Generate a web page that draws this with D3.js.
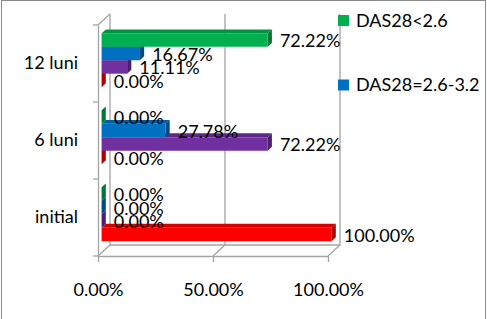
<!DOCTYPE html>
<html>
<head>
<meta charset="utf-8">
<script src="https://cdn.jsdelivr.net/npm/d3@7"></script>
<style>
  html, body { margin: 0; padding: 0; background: #fff; }
  svg { display: block; font-family: Lato, "Open Sans", sans-serif; }
</style>
</head>
<body>
<div id="chart"></div>
<script>
// categories, top to bottom as shown
const categories = ["12 luni", "6 luni", "initial"];
// series, top to bottom inside each category
const seriesNames = ["DAS28<2.6", "DAS28=2.6-3.2", "DAS28=3.2-5.1", "DAS28>5.1"];
const seriesColors = ["#00B050", "#0070C0", "#7030A0", "#FF0000"];
// values in percent, same order as categories
const greenValues = [72.22, 0, 0];
const blueValues = [16.67, 27.78, 0];
const purpleValues = [11.11, 72.22, 0];
const redValues = [0, 0, 100];
const xTicks = [0, 50, 100];
const legendShown = 2; // only the first two legend entries fit in the picture

const seriesValues = [greenValues, blueValues, purpleValues, redValues];

const width = 487, height = 319;
const DX = 12, DY = -11;      // depth offset front -> back wall
const z0 = 0.3, z1 = 0.65;     // depth range of the bars
const gridColor = "#a3a3a3";

const svg = d3.select("#chart")
    .append("svg")
    .attr("width", width)
    .attr("height", height);

// outer frame
svg.append("rect")
    .attr("x", 1.5).attr("y", 0.5)
    .attr("width", 484).attr("height", 330)
    .attr("fill", "none").attr("stroke", "#8a8a8a");

/* scales */
const x = d3.scaleLinear().domain([0, 100]).range([98, 328]);
const y0 = d3.scaleBand().domain(categories).range([25, 256]);
const ys = d3.scaleBand().domain(seriesNames)
    .range([y0.step() * 0.15, y0.step() * 0.85]);

const yTop = y0.range()[0], yBottom = y0.range()[1];

/* walls */
const walls = svg.append("g")
    .attr("stroke", gridColor).attr("stroke-width", 1.3).attr("fill", "none");

// back wall gridlines + their floor lines
xTicks.forEach(t => {
    walls.append("path").attr("d", d3.line()([
        [x(t) + DX, yTop + DY], [x(t) + DX, yBottom + DY], [x(t), yBottom]
    ]));
});
// left wall
walls.append("path").attr("d", d3.line()([
    [x(0), yTop], [x(0) + DX, yTop + DY]
]));
// floor back edge
walls.append("path").attr("d", d3.line()([
    [x(0) + DX, yBottom + DY], [x(100) + DX, yBottom + DY]
]));
// category boundary ticks
const bounds = categories.map(c => y0(c)).concat([yBottom]);
walls.selectAll("line.ctick")
    .data(bounds)
    .enter()
    .append("line")
    .attr("x1", x(0) - 5).attr("x2", x(0))
    .attr("y1", d => d).attr("y2", d => d);

/* axes */
const xAxis = svg.append("g")
    .attr("transform", `translate(0, ${yBottom})`)
    .call(d3.axisBottom(x).tickValues(xTicks).tickSize(6).tickSizeOuter(0)
        .tickPadding(21).tickFormat(d => d.toFixed(2) + "%"));

const yAxis = svg.append("g")
    .attr("transform", `translate(${x(0)}, 0)`)
    .call(d3.axisLeft(y0).tickSize(0).tickSizeOuter(0).tickPadding(20));

[xAxis, yAxis].forEach(a => {
    a.selectAll("path, line").attr("stroke", gridColor).attr("stroke-width", 1.3);
    a.selectAll("text").attr("font-size", 18).attr("fill", "#000")
        .attr("font-family", "Lato, 'Open Sans', sans-serif");
});

/* bars */
const bars = [];
categories.forEach((c, ci) => {
    seriesNames.forEach((s, si) => {
        bars.push({ cat: c, series: s, color: seriesColors[si], value: seriesValues[si][ci] });
    });
});

// draw lower bars first so upper ones cover their top faces
const drawOrder = bars.slice().sort((a, b) =>
    (y0(b.cat) + ys(b.series)) - (y0(a.cat) + ys(a.series)));

const barG = svg.append("g");
drawOrder.forEach(b => {
    const top = y0(b.cat) + ys(b.series);
    const bot = top + ys.bandwidth();
    const xa = x(0), xb = x(b.value);
    const P = (px, py, z) => [px + z * DX, py + z * DY];
    const c = d3.color(b.color);
    const g = barG.append("g");
    // top face
    g.append("path")
        .attr("d", d3.line()([P(xa, top, z0), P(xb, top, z0), P(xb, top, z1), P(xa, top, z1)]) + "Z")
        .attr("fill", c.darker(0.5));
    // end face
    g.append("path")
        .attr("d", d3.line()([P(xb, top, z0), P(xb, top, z1), P(xb, bot, z1), P(xb, bot, z0)]) + "Z")
        .attr("fill", c.darker(1.1));
    // front face
    g.append("path")
        .attr("d", d3.line()([P(xa, top, z0), P(xb, top, z0), P(xb, bot, z0), P(xa, bot, z0)]) + "Z")
        .attr("fill", b.color);
});

/* data labels */
svg.selectAll("text.bar-label")
    .data(bars)
    .enter()
    .append("text")
    .attr("class", "bar-label")
    .text(d => d.value.toFixed(2) + "%")
    .attr("x", d => x(d.value) + z1 * DX + 8)
    .attr("y", d => y0(d.cat) + ys(d.series) + ys.bandwidth() / 2 + z0 * DY + 7.5)
    .attr("font-size", 18)
    .attr("fill", "#000");

/* legend */
const legend = svg.append("g")
    .selectAll("g")
    .data(seriesNames.slice(0, legendShown))
    .enter()
    .append("g")
    .attr("transform", (d, i) => `translate(338, ${15 + i * 64.5})`);

legend.append("rect")
    .attr("width", 11).attr("height", 11)
    .attr("fill", (d, i) => seriesColors[i]);

legend.append("text")
    .attr("x", 18).attr("y", 11.5)
    .attr("font-size", 18)
    .text(d => d);
</script>
</body>
</html>
